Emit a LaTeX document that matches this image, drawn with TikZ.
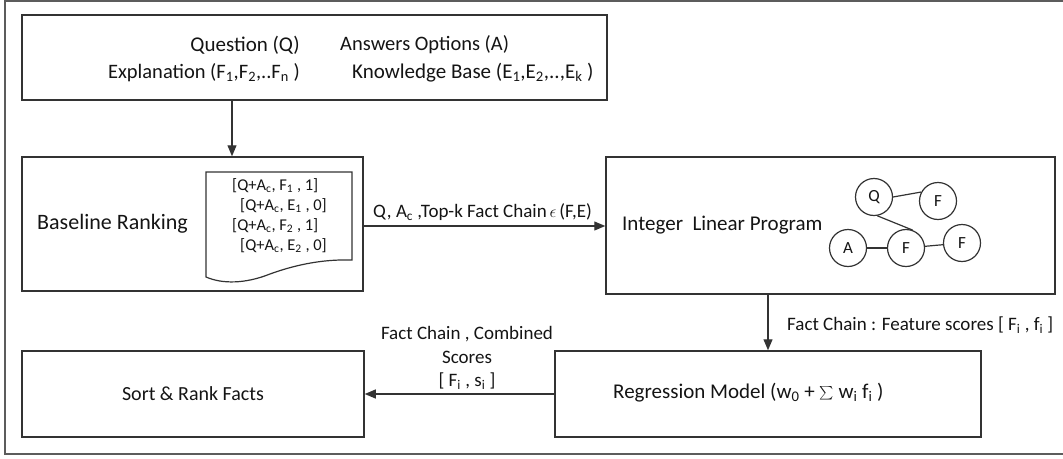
\documentclass[tikz,border=0pt]{standalone}
\usepackage{fontspec}
\usepackage{graphicx}
\setmainfont{Carlito}
\usetikzlibrary{arrows.meta,calc}
\definecolor{linec}{HTML}{333333}
\definecolor{txtc}{HTML}{141414}
\begin{document}
\begin{tikzpicture}[x=1pt,y=-1pt,
  boxst/.style={draw=linec, line width=1.5pt, inner sep=0pt, fill=none},
  circst/.style={draw=linec, line width=1.2pt, circle, minimum size=37pt, inner sep=0pt, font=\fontsize{17}{18}\selectfont, text=txtc},
  arr/.style={draw=linec, line width=1.2pt, -{Triangle[length=11pt,width=9pt]}},
  lbl/.style={text=txtc, inner sep=0pt},
  edge/.style={draw=linec, line width=1.2pt}
]
\useasboundingbox (0,0) rectangle (1063,458);
% outer frame
\draw[draw=linec!80, line width=2pt] (5,1) rectangle (1075,454);

% boxes
\node[boxst, minimum width=585pt, minimum height=85pt] (top) at (314.5,57.5) {};
\node[boxst, minimum width=341pt, minimum height=134pt] (base) at (192.5,224) {};
\node[boxst, minimum width=449pt, minimum height=137pt] (ilp) at (830.5,225.5) {};
\node[boxst, minimum width=342pt, minimum height=86pt] (sort) at (193,394) {};
\node[boxst, minimum width=426pt, minimum height=86pt] (reg) at (768,394) {};

% top box texts
\node[lbl, anchor=east, font=\fontsize{21}{22}\selectfont] (tq) at (300,45) {Question (Q)};
\node[lbl, anchor=west, font=\fontsize{20.5}{22}\selectfont] (ta) at (340,45) {Answers Options (A)};
\node[lbl, anchor=east, font=\fontsize{20.5}{22}\selectfont] (te) at (300,73) {Explanation (F\textsubscript{1},F\textsubscript{2},..F\textsubscript{n} )};
\node[lbl, anchor=west, font=\fontsize{21}{22}\selectfont] (tk) at (352,73) {Knowledge Base (E\textsubscript{1},E\textsubscript{2},..,E\textsubscript{k} )};

% baseline ranking
\node[lbl, anchor=west, font=\fontsize{22}{24}\selectfont] (bl) at (37,224) {Baseline Ranking};
\draw[boxst, line width=1.2pt] (206,172) -- (352,172) -- (352,260)
  .. controls (320,259) and (292,266) .. (270,274)
  .. controls (245,284) and (222,284) .. (206,277) -- cycle;
\node[lbl, anchor=north west, align=left, font=\fontsize{16.5}{20}\selectfont] (doc) at (232,178)
  {{[}Q+A\textsubscript{c}, F\textsubscript{1} , 1]\\
   \hspace*{8pt}{[}Q+A\textsubscript{c}, E\textsubscript{1} , 0]\\
   {[}Q+A\textsubscript{c}, F\textsubscript{2} , 1]\\
   \hspace*{8pt}{[}Q+A\textsubscript{c}, E\textsubscript{2} , 0]};

% ILP
\node[lbl, anchor=west, font=\fontsize{21}{22}\selectfont] (il) at (622,225) {Integer\ \ Linear Program};
\node[circst] (gq) at (874,197) {Q};
\node[circst] (gf1) at (938,201) {F};
\node[circst] (ga) at (848,248) {A};
\node[circst] (gf2) at (906,248) {F};
\node[circst] (gf3) at (962,243) {F};
\draw[edge] (gq.0) -- (gf1.152);
\draw[edge] (gq.-80) -- (gf2.70);
\draw[edge] (ga) -- (gf2);
\draw[edge] (gf2) -- (gf3);

% sort, regression
\node[lbl, font=\fontsize{20}{22}\selectfont] (st) at (sort.center) {Sort \& Rank Facts};
\node[lbl, anchor=west, font=\fontsize{21}{22}\selectfont] (rt) at (613,393) {Regression Model (w\textsubscript{0} + \raisebox{-0.15ex}{\scalebox{1.35}{$\sum$}} w\textsubscript{i} f\textsubscript{i} )};

% arrows
\draw[arr] ([xshift=-82.5pt]top.south) -- ([xshift=39.5pt]base.north);
\draw[arr] ([yshift=-2pt]base.east) -- ([yshift=-2pt]base.east -| ilp.west);
\draw[arr] (ilp.south -| reg.north) -- (reg.north);
\draw[arr] (reg.west) -- (sort.east);

% arrow labels
\node[lbl, anchor=west, font=\fontsize{19}{20}\selectfont] (l1) at (373,212) {Q, A\textsubscript{c} ,Top-k Fact Chain$\,\epsilon\,$(F,E)};
\node[lbl, anchor=west, font=\fontsize{19}{20}\selectfont] (l2) at (787,325) {Fact Chain : Feature scores {[} F\textsubscript{i} , f\textsubscript{i} ]};
\node[lbl, align=center, font=\fontsize{19}{23.5}\selectfont] (l3) at (467,358) {Fact Chain , Combined\\Scores\\{[} F\textsubscript{i} , s\textsubscript{i} ]};
\end{tikzpicture}
\end{document}
